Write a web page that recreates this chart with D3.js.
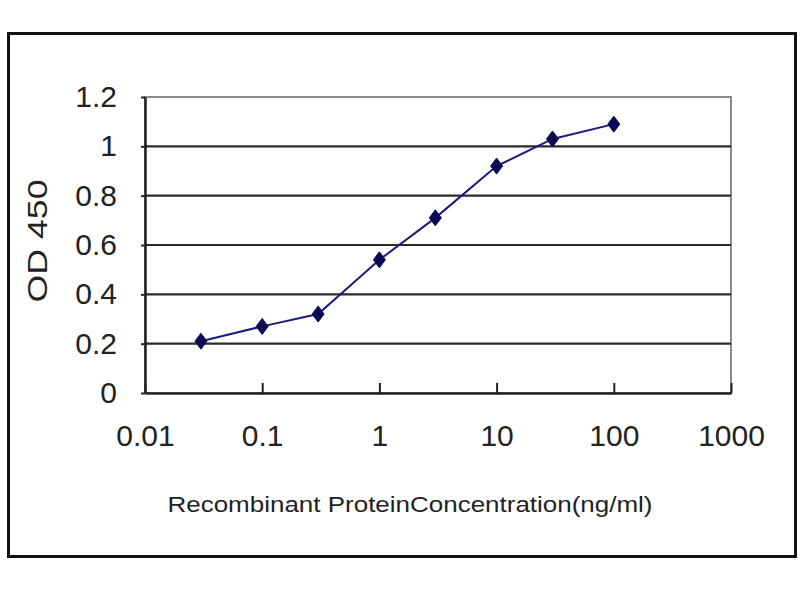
<!DOCTYPE html>
<html lang="en">
<head>
  <meta charset="UTF-8" />
  <title>OD 450 vs Recombinant Protein Concentration</title>
  <style>
    body { margin: 0; background: #fff; }
    text { font-family: "Liberation Sans", Arial, sans-serif; fill: #222; }
  </style>
</head>
<body>
  <div id="chart"></div>
  <script src="https://d3js.org/d3.v7.min.js"></script>
  <script>
    // concentrations (ng/ml) and measured OD 450
    const concentrations = [0.03, 0.1, 0.3, 1, 3, 10, 30, 100];
    const od450 = [0.21, 0.27, 0.32, 0.54, 0.71, 0.92, 1.03, 1.09];

    const xTicks = [0.01, 0.1, 1, 10, 100, 1000];
    const xTickLabels = ["0.01", "0.1", "1", "10", "100", "1000"];
    const yTicks = [0, 0.2, 0.4, 0.6, 0.8, 1, 1.2];
    const yTickLabels = ["0", "0.2", "0.4", "0.6", "0.8", "1", "1.2"];

    const data = concentrations.map((c, i) => ({ c: c, v: od450[i] }));

    const W = 800, H = 600;
    const plot = { left: 145, right: 731, top: 97, bottom: 393 };

    const svg = d3.select("#chart").append("svg")
      .attr("width", W)
      .attr("height", H);

    // outer frame
    svg.append("rect")
      .attr("x", 8.5).attr("y", 33.5)
      .attr("width", 787).attr("height", 523)
      .attr("fill", "#fff")
      .attr("stroke", "#111")
      .attr("stroke-width", 3);

    const x = d3.scaleLog()
      .domain([0.01, 1000])
      .range([plot.left, plot.right]);

    const y = d3.scaleLinear()
      .domain([0, 1.2])
      .range([plot.bottom, plot.top]);

    // plot area border (gray)
    svg.append("rect")
      .attr("x", plot.left).attr("y", plot.top)
      .attr("width", plot.right - plot.left)
      .attr("height", plot.bottom - plot.top)
      .attr("fill", "none")
      .attr("stroke", "#8a8a8a")
      .attr("stroke-width", 2);

    // horizontal gridlines
    svg.append("g")
      .selectAll("line")
      .data(yTicks.filter(t => t > 0 && t < 1.2))
      .enter()
      .append("line")
      .attr("x1", plot.left).attr("x2", plot.right)
      .attr("y1", d => y(d)).attr("y2", d => y(d))
      .attr("stroke", "#2a2a2a")
      .attr("stroke-width", 2.2);

    // x axis, ticks pointing up into the plot
    const xAxis = svg.append("g")
      .attr("transform", `translate(0,${plot.bottom})`)
      .call(d3.axisBottom(x)
        .tickValues(xTicks)
        .tickFormat((d, i) => xTickLabels[i])
        .tickSizeInner(-10)
        .tickSizeOuter(0)
        .tickPadding(32));
    xAxis.select(".domain").attr("stroke", "#222").attr("stroke-width", 2.5);
    xAxis.selectAll(".tick line").attr("stroke", "#222").attr("stroke-width", 2);
    xAxis.selectAll(".tick text")
      .attr("font-size", "30px")
      .attr("font-family", "'Liberation Sans', Arial, sans-serif")
      .attr("fill", "#222");

    // y axis
    const yAxis = svg.append("g")
      .attr("transform", `translate(${plot.left},0)`)
      .call(d3.axisLeft(y)
        .tickValues(yTicks)
        .tickFormat((d, i) => yTickLabels[i])
        .tickSizeInner(4)
        .tickSizeOuter(0)
        .tickPadding(24));
    yAxis.select(".domain").attr("stroke", "#222").attr("stroke-width", 2.5);
    yAxis.selectAll(".tick line").attr("stroke", "#222").attr("stroke-width", 2);
    yAxis.selectAll(".tick text")
      .attr("font-size", "30px")
      .attr("font-family", "'Liberation Sans', Arial, sans-serif")
      .attr("fill", "#222");

    // data line
    const line = d3.line()
      .x(d => x(d.c))
      .y(d => y(d.v));

    svg.append("path")
      .datum(data)
      .attr("d", line)
      .attr("fill", "none")
      .attr("stroke", "#1a1a80")
      .attr("stroke-width", 2);

    // diamond markers
    svg.append("g")
      .selectAll("path")
      .data(data)
      .enter()
      .append("path")
      .attr("transform", d => `translate(${x(d.c)},${y(d.v)})`)
      .attr("d", "M0,-8 L6,0 L0,8 L-6,0 Z")
      .attr("fill", "#0b0b55")
      .attr("stroke", "#0b0b55")
      .attr("stroke-width", 1);

    // axis titles
    svg.append("text")
      .attr("x", 410)
      .attr("y", 512)
      .attr("text-anchor", "middle")
      .attr("font-size", "22px")
      .attr("textLength", 485)
      .attr("lengthAdjust", "spacingAndGlyphs")
      .text("Recombinant ProteinConcentration(ng/ml)");

    svg.append("text")
      .attr("transform", "translate(47,241) rotate(-90)")
      .attr("text-anchor", "middle")
      .attr("font-size", "28px")
      .attr("textLength", 123)
      .attr("lengthAdjust", "spacingAndGlyphs")
      .text("OD 450");
  </script>
</body>
</html>
